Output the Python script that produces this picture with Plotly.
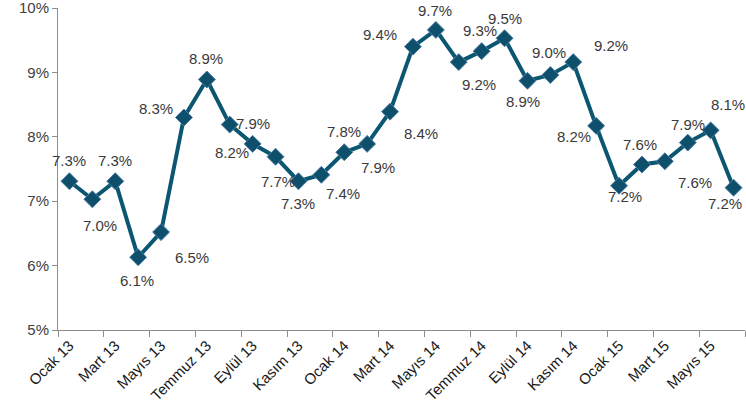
import plotly.graph_objects as go

months = ["Ocak 13", "Şubat 13", "Mart 13", "Nisan 13", "Mayıs 13", "Haziran 13",
          "Temmuz 13", "Ağustos 13", "Eylül 13", "Ekim 13", "Kasım 13", "Aralık 13",
          "Ocak 14", "Şubat 14", "Mart 14", "Nisan 14", "Mayıs 14", "Haziran 14",
          "Temmuz 14", "Ağustos 14", "Eylül 14", "Ekim 14", "Kasım 14", "Aralık 14",
          "Ocak 15", "Şubat 15", "Mart 15", "Nisan 15", "Mayıs 15", "Haziran 15"]
values = [7.31, 7.03, 7.31, 6.13, 6.52, 8.30, 8.89, 8.19, 7.89, 7.69, 7.31, 7.41,
          7.76, 7.89, 8.39, 9.40, 9.66, 9.16, 9.33, 9.53, 8.87, 8.96, 9.16, 8.17,
          7.24, 7.57, 7.62, 7.91, 8.10, 7.21]
y_ticks = [5, 6, 7, 8, 9, 10]

# label offsets (px, right / down) relative to each point
label_offsets = [(0, -21), (8, 26), (0, -21), (-1, 23), (31, 25), (-28, -9),
                 (-1, -21), (2, 28), (0, -20), (2, 25), (0, 22), (22, 19),
                 (0, -21), (11, 24), (31, 22), (-33, -12), (-1, -19), (20, 22),
                 (-2, -21), (0, -20), (-4, 21), (-1, -22), (38, -17), (-22, 11),
                 (6, 11), (-2, -20), (30, 21), (0, -18), (17, -26), (-9, 16)]

idx = list(range(len(months)))
FONT = "Liberation Sans, Arial, sans-serif"

fig = go.Figure()
fig.add_trace(go.Scatter(
    x=idx, y=values, mode="lines+markers",
    line=dict(color="#0b5670", width=4),
    marker=dict(symbol="diamond", size=13, color="#0e4f6b",
                line=dict(color="#4a7aa3", width=1)),
    cliponaxis=False, showlegend=False, hoverinfo="skip",
))

for i, v in enumerate(values):
    dx, dy = label_offsets[i]
    fig.add_annotation(x=i, y=v, text=f"{v:.1f}%", showarrow=False,
                       xshift=dx, yshift=-dy,
                       font=dict(family=FONT, size=15, color="#3a3a3a"))

fig.update_layout(
    width=746, height=404,
    margin=dict(l=58, r=1, t=8, b=74, autoexpand=False),
    paper_bgcolor="white", plot_bgcolor="white",
    font=dict(family=FONT),
)
fig.update_xaxes(
    range=[-0.5, len(months) - 0.5], automargin=False,
    tickmode="array", tickvals=idx[::2], ticktext=months[::2],
    tickangle=-45, ticks="", showgrid=False, zeroline=False,
    showline=True, linecolor="#8c8c8c", linewidth=1,
    tickfont=dict(family=FONT, size=15, color="#1a1a1a"),
    minor=dict(tickmode="array", tickvals=[i - 0.5 for i in range(0, len(months) + 1, 2)],
               ticks="outside", ticklen=6, tickcolor="#8c8c8c", tickwidth=1, showgrid=False),
)
fig.update_yaxes(
    range=[5, 10.0001], automargin=False, tickmode="array", tickvals=y_ticks,
    ticktext=[f"{t}%" for t in y_ticks], ticklabeloverflow="allow",
    ticks="outside", ticklen=5, tickcolor="#8c8c8c",
    showgrid=False, zeroline=False,
    showline=True, linecolor="#8c8c8c", linewidth=1,
    tickfont=dict(family=FONT, size=15, color="#404040"),
)

fig.write_html("out.html", config={"displayModeBar": False, "staticPlot": True},
               post_script="document.body.style.margin='0';document.body.style.padding='0';")
